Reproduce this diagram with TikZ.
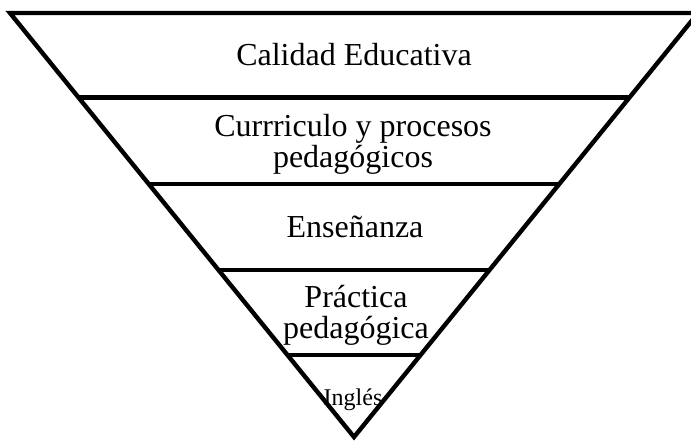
\documentclass[tikz,border=0pt]{standalone}
\usepackage{fontspec}
\setmainfont{Liberation Serif}
\usetikzlibrary{calc}
\begin{document}
\begin{tikzpicture}[x=0.75pt,y=-0.75pt,
  edge/.style={line width=3.3pt,line join=miter,line cap=butt},
  lbl/.style={font=\fontsize{24}{23.25}\selectfont,align=center,anchor=base,inner sep=0pt},
  small/.style={font=\fontsize{18}{20}\selectfont,anchor=base,inner sep=0pt}]
\useasboundingbox (0,0) rectangle (691,440);
\coordinate (L) at (10,13);
\coordinate (R) at (698,13);
\coordinate (A) at (354,437);
\draw[edge] (L) -- (R) -- (A) -- cycle;
\foreach \t/\n in {0.1993/a,0.4033/b,0.6061/c,0.8066/d}{
  \draw[edge] ($(L)!\t!(A)$) coordinate (l\n) -- ($(R)!\t!(A)$) coordinate (r\n);
}
\node[lbl] (t1) at (354,65) {Calidad Educativa};
\node[lbl] (t2) at (353,167) {Currriculo y procesos\\pedagógicos};
\node[lbl] (t3) at (355,237) {Enseñanza};
\node[lbl] (t4) at (356,338) {Práctica\\pedagógica};
\node[small] (t5) at (353,405) {Inglés};
\end{tikzpicture}
\end{document}
